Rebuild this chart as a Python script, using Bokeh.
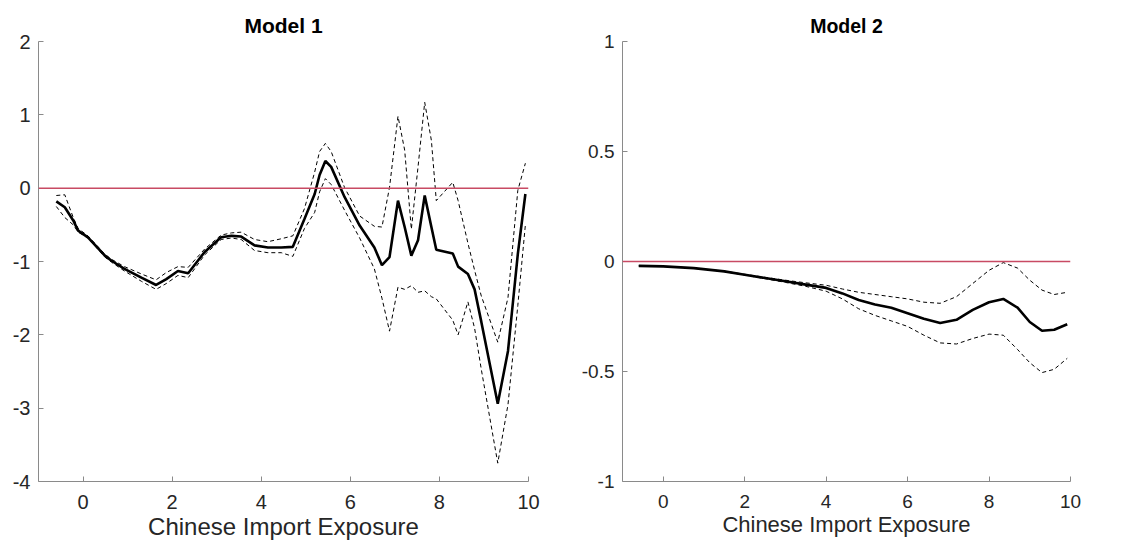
from bokeh.plotting import figure
from bokeh.layouts import row
from bokeh.models import Span, FixedTicker
from bokeh.embed import file_html
from bokeh.resources import INLINE

# ---------------- data ----------------
x_m1 = [-0.60, -0.41, -0.22, -0.11, 0.11, 0.49, 0.64, 0.93, 1.31, 1.64, 1.87, 2.13, 2.36, 2.73,
        3.10, 3.33, 3.55, 3.85, 4.15, 4.45, 4.71, 4.97, 5.20, 5.31, 5.44, 5.57, 5.87, 6.21,
        6.54, 6.71, 6.88, 7.07, 7.22, 7.37, 7.52, 7.67, 7.82, 7.93, 8.30, 8.42, 8.64, 8.79,
        8.94, 9.31, 9.54, 9.76, 9.93]
est_m1 = [-0.18, -0.26, -0.44, -0.58, -0.67, -0.92, -0.99, -1.10, -1.22, -1.32, -1.24, -1.13,
          -1.16, -0.87, -0.67, -0.65, -0.66, -0.78, -0.81, -0.81, -0.80, -0.42, -0.08, 0.18,
          0.37, 0.29, -0.12, -0.51, -0.81, -1.05, -0.94, -0.17, -0.53, -0.92, -0.71, -0.10,
          -0.53, -0.84, -0.89, -1.07, -1.17, -1.38, -1.82, -2.94, -2.22, -0.90, -0.08]
hi_m1 = [-0.10, -0.09, -0.40, -0.55, -0.65, -0.90, -0.97, -1.07, -1.17, -1.25, -1.15, -1.07,
         -1.08, -0.83, -0.64, -0.61, -0.60, -0.70, -0.73, -0.69, -0.65, -0.28, 0.22, 0.50,
         0.61, 0.50, 0.01, -0.38, -0.52, -0.53, 0.01, 0.98, 0.52, -0.56, 0.29, 1.17, 0.65,
         -0.17, 0.08, -0.17, -0.75, -1.12, -1.47, -2.10, -1.49, -0.03, 0.34]
lo_m1 = [-0.25, -0.40, -0.50, -0.60, -0.68, -0.94, -1.01, -1.13, -1.27, -1.38, -1.30, -1.19,
         -1.22, -0.91, -0.70, -0.68, -0.70, -0.85, -0.88, -0.88, -0.93, -0.55, -0.33, -0.05,
         0.13, 0.05, -0.30, -0.68, -1.10, -1.50, -1.95, -1.35, -1.38, -1.33, -1.42, -1.40,
         -1.48, -1.51, -1.80, -2.00, -1.55, -1.91, -2.47, -3.75, -2.95, -1.60, -0.50]

x_m2 = [-0.6, 0.0, 0.75, 1.5, 2.0, 2.5, 3.0, 3.5, 4.0, 4.4, 4.8, 5.2, 5.6, 6.0, 6.4, 6.8,
        7.2, 7.6, 8.0, 8.35, 8.7, 9.0, 9.3, 9.6, 9.92]
est_m2 = [-0.02, -0.022, -0.03, -0.045, -0.06, -0.075, -0.09, -0.105, -0.12, -0.145, -0.175,
          -0.195, -0.21, -0.235, -0.26, -0.28, -0.265, -0.22, -0.185, -0.17, -0.21, -0.275,
          -0.315, -0.31, -0.285]
hi_m2 = [-0.02, -0.022, -0.03, -0.044, -0.058, -0.072, -0.085, -0.097, -0.108, -0.125, -0.14,
         -0.15, -0.16, -0.17, -0.185, -0.19, -0.16, -0.10, -0.04, -0.005, -0.03, -0.085,
         -0.13, -0.15, -0.14]
lo_m2 = [-0.02, -0.022, -0.03, -0.046, -0.062, -0.078, -0.095, -0.113, -0.135, -0.17, -0.215,
         -0.245, -0.27, -0.295, -0.335, -0.37, -0.375, -0.35, -0.33, -0.335, -0.40, -0.46,
         -0.505, -0.49, -0.44]

x_ticks = [0, 2, 4, 6, 8, 10]
y_ticks_m1 = [-4, -3, -2, -1, 0, 1, 2]
y_ticks_m2 = [-1, -0.5, 0, 0.5, 1]
x_label = "Chinese Import Exposure"

FONT = "Liberation Sans"
TXT = "#262626"
AX = "#8a8a8a"


def make_panel(title, xs, est, hi, lo, yr, yticks, width, bl, br, tick_fs, lab_fs, title_fs):
    p = figure(width=width, height=544, x_range=(-1, 10), y_range=yr,
               output_backend="svg", toolbar_location=None,
               min_border_left=bl, min_border_right=br, min_border_top=41,
               min_border_bottom=63)
    p.title.text = title
    p.title.align = "center"
    p.title.text_font = FONT
    p.title.text_font_size = title_fs
    p.title.text_font_style = "bold"
    p.title.text_color = "#000000"
    p.title.standoff = 9
    p.outline_line_color = None
    p.grid.visible = False
    p.background_fill_color = "white"
    p.border_fill_color = "white"

    p.add_layout(Span(location=0, dimension="width", line_color="#c84a63", line_width=1.5))
    p.line(xs, hi, line_color="black", line_width=1, line_dash="4 3")
    p.line(xs, lo, line_color="black", line_width=1, line_dash="4 3")
    p.line(xs, est, line_color="black", line_width=2.6)

    for ax in (p.xaxis[0], p.yaxis[0]):
        ax.axis_line_color = AX
        ax.major_tick_line_color = AX
        ax.major_tick_in = 5
        ax.major_tick_out = 0
        ax.minor_tick_line_color = None
        ax.major_label_text_font = FONT
        ax.major_label_text_font_size = tick_fs
        ax.major_label_text_color = TXT
    p.xaxis.ticker = FixedTicker(ticks=x_ticks)
    p.xaxis.major_label_overrides = {t: str(t) for t in x_ticks}
    p.xaxis.major_label_standoff = 13
    p.xaxis.axis_label = x_label
    p.xaxis.axis_label_text_font = FONT
    p.xaxis.axis_label_text_font_size = lab_fs
    p.xaxis.axis_label_text_font_style = "normal"
    p.xaxis.axis_label_text_color = TXT
    p.xaxis.axis_label_standoff = 1
    p.yaxis.ticker = FixedTicker(ticks=yticks)
    p.yaxis.major_label_overrides = {t: ("%g" % t) for t in yticks}
    p.yaxis.major_label_standoff = 8
    return p


p1 = make_panel("Model 1", x_m1, est_m1, hi_m1, lo_m1, (-4, 2), y_ticks_m1,
                572, 38, 44, "20px", "24px", "21px")
p2 = make_panel("Model 2", x_m2, est_m2, hi_m2, lo_m2, (-1, 1), y_ticks_m2,
                548, 50, 50, "19px", "22px", "19.5px")

layout = row(p1, p2)
open("out.html", "w").write(file_html(layout, INLINE))
